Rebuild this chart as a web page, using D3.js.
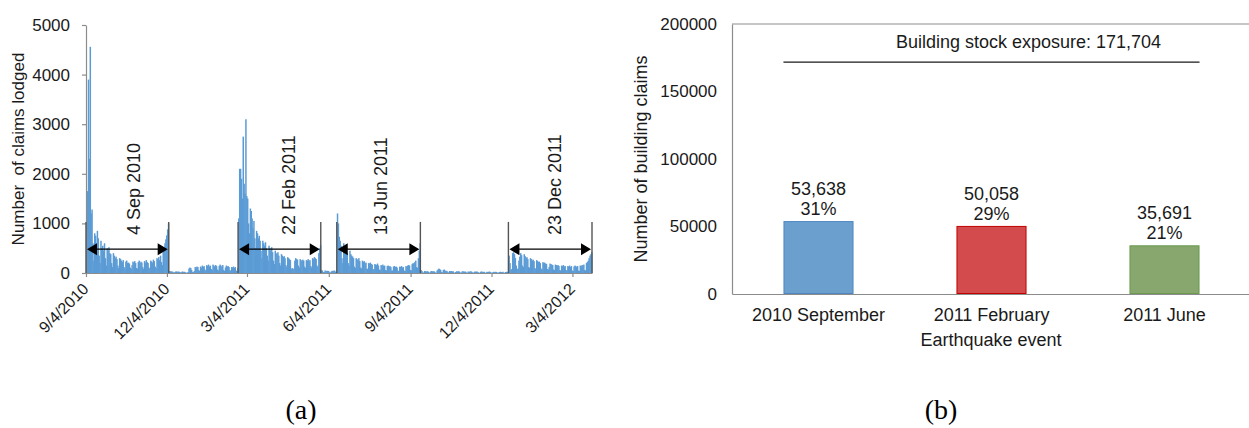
<!DOCTYPE html>
<html>
<head>
<meta charset="utf-8">
<script src="https://cdn.jsdelivr.net/npm/d3@7"></script>
<style>
  body { margin: 0; background: #fff; }
  svg { display: block; font-family: "Liberation Sans", Arial, sans-serif; }
</style>
</head>
<body>
<svg id="fig" width="1249" height="428"></svg>
<script>
// ---------- (a) daily claims lodged ----------
// Each block is a run of consecutive days beginning at the matching entry of segmentStarts.
const segmentStarts = ["2010-09-04", "2010-12-06", "2011-02-22", "2011-05-26", "2011-06-13", "2011-09-15", "2011-12-23"];

const claimsSep2010 = [
  1000, 1650, 3900, 2300, 4560, 1200, 1280,
  600, 250, 800, 750, 600, 850, 700,
  350, 200, 650, 500, 550, 450, 600,
  300, 150, 500, 450, 520, 400, 380,
  200, 120, 400, 350, 300, 330, 280,
  150, 100, 300, 280, 250, 220, 260,
  120, 90, 230, 250, 200, 210, 190,
  110, 80, 160, 230, 210, 240, 200,
  100, 90, 220, 250, 200, 230, 210,
  120, 80, 240, 210, 260, 220, 200,
  110, 90, 250, 230, 210, 270, 240,
  130, 100, 300, 280, 320, 260, 350,
  220, 160, 480, 520, 600, 680, 760,
  880, 1000
];
const claimsSummer2011 = [
  40, 35, 30, 30, 25, 15,
  10, 30, 30, 25, 30, 25, 15,
  10, 25, 30, 20, 25, 15, 5,
  5, 20, 90, 110, 100, 60, 20,
  15, 40, 120, 110, 130, 120, 60,
  40, 130, 110, 150, 120, 140, 70,
  50, 160, 140, 170, 130, 150, 80,
  60, 170, 150, 130, 160, 140, 70,
  50, 140, 170, 150, 120, 160, 60,
  40, 110, 150, 130, 140, 120, 60,
  40, 120, 110, 130, 100, 120, 50,
  40, 100
];
const claimsFeb2011 = [
  1100, 2100, 2100, 1900, 1500, 2750, 1800,
  1600, 3100, 1550, 1500, 1000, 800, 1300, 1250, 1100, 900, 1050, 700, 500, 850, 800, 700,
  750, 650, 450, 300, 650, 600, 550, 620, 500, 350, 250, 550, 500, 450, 520,
  420, 250, 180, 450, 400, 380, 420, 350, 200, 150, 380, 350, 320, 340, 300,
  160, 120, 320, 300, 280, 260, 80, 100, 80, 90, 250, 300, 280, 270, 150,
  110, 280, 260, 240, 270, 250, 130, 100, 260, 250, 280, 240, 260, 140, 110,
  300, 280, 320, 300, 280, 150, 120, 400, 500, 560
];
const claimsWinter2011 = [
  60, 50, 20, 15, 50, 45, 40, 45, 40, 15, 10, 30, 45, 40, 50, 45, 20, 15
];
const claimsJun2011 = [
  1200, 1000, 730, 650, 550, 300, 200,
  600, 520, 480, 420, 400, 200, 150,
  450, 380, 350, 330, 300, 130, 100,
  300, 280, 260, 300, 240, 110, 90,
  250, 220, 240, 200, 210, 90, 80,
  200, 190, 210, 180, 170, 80, 70,
  180, 170, 160, 190, 150, 70, 60,
  160, 150, 170, 140, 150, 60, 50,
  140, 150, 130, 140, 120, 50, 50,
  130, 140, 120, 130, 110, 50, 40,
  130, 120, 140, 110, 120, 50, 40,
  140, 130, 150, 160, 150, 60, 50,
  180, 200, 190, 220, 250, 120, 100,
  300, 450, 600
];
const claimsSpring2011 = [
  60, 40, 10, 10,
  40, 35, 30, 35, 30, 10, 10,
  35, 40, 30, 35, 30, 10, 5,
  50, 70, 90, 80, 60, 20, 10,
  60, 70, 50, 40, 45, 15, 10,
  40, 35, 40, 30, 35, 10, 5,
  20, 35, 30, 35, 30, 10, 5,
  30, 35, 30, 25, 30, 10, 5,
  30, 25, 30, 35, 25, 10, 5,
  25, 30, 25, 30, 20, 5, 5,
  25, 30, 25, 20, 25, 5, 5,
  25, 20, 25, 30, 20, 5, 5,
  20, 25, 20, 25, 20, 5, 5,
  20, 25, 20, 20, 25, 5, 5,
  20, 25, 20, 25
];
const claimsDec2011 = [
  350, 200, 60, 80, 400, 420, 380, 300, 150,
  80, 90, 250, 330, 400, 360, 150, 120, 380, 340, 300, 320, 280, 120, 100,
  300, 280, 250, 270, 240, 100, 80, 260, 240, 220, 230, 200, 90, 70, 220, 200,
  210, 190, 180, 80, 70, 120, 190, 180, 170, 160, 70, 60, 170, 160, 150, 160, 140,
  60, 50, 150, 140, 160, 130, 140, 60, 50, 140, 130, 150,
  120, 140, 50, 40, 130, 150, 140, 120, 140, 50, 40, 150, 140, 160, 150, 170,
  60, 50, 200, 220, 250, 300, 350, 380, 420
];
const claimSegments = [claimsSep2010, claimsSummer2011, claimsFeb2011, claimsWinter2011,
                       claimsJun2011, claimsSpring2011, claimsDec2011];

const axisStart = "2010-09-04";
const axisEnd = "2012-03-26";
const dateTicks = ["2010-09-04", "2010-12-04", "2011-03-04", "2011-06-04", "2011-09-04", "2011-12-04", "2012-03-04"];
const claimTicks = [0, 1000, 2000, 3000, 4000, 5000];

const eventLabels = ["4 Sep 2010", "22 Feb 2011", "13 Jun 2011", "23 Dec 2011"];
const windowStarts = ["2010-09-04", "2011-02-22", "2011-06-13", "2011-12-23"];
const windowEnds = ["2010-12-05", "2011-05-25", "2011-09-14", "2012-03-25"];

// ---------- (b) building claims per event ----------
const events = ["2010 September", "2011 February", "2011 June"];
const buildingClaims = [53638, 50058, 35691];
const stockExposure = 171704;
const buildingTicks = [0, 50000, 100000, 150000, 200000];
const barFills = ["#6a9fce", "#d34b4d", "#87a76e"];
const barStrokes = ["#4f86c0", "#c00000", "#6a9a4c"];

// ---------- drawing ----------
const svg = d3.select("#fig");
const parse = d3.utcParse("%Y-%m-%d");
const axisColor = "#8c8c8c";
const textColor = "#1a1a1a";

const days = [];
segmentStarts.forEach((s, i) => {
  const start = parse(s);
  claimSegments[i].forEach((v, j) => days.push({ date: d3.utcDay.offset(start, j), value: v }));
});

const xA = d3.scaleUtc().domain([parse(axisStart), parse(axisEnd)]).range([86, 592]);
const yA = d3.scaleLinear().domain([0, 5000]).range([273, 25]);

const gA = svg.append("g");

gA.append("g").selectAll("rect").data(days).join("rect")
  .attr("x", d => xA(d.date))
  .attr("width", d => xA(d3.utcDay.offset(d.date, 1)) - xA(d.date) + 0.6)
  .attr("y", d => yA(d.value))
  .attr("height", d => yA(0) - yA(d.value))
  .attr("fill", "#5b9bd5");

const yAxisA = gA.append("g").attr("transform", `translate(${xA.range()[0]},0)`)
  .call(d3.axisLeft(yA).tickValues(claimTicks).tickSize(4).tickSizeOuter(0).tickPadding(12)
    .tickFormat(d3.format("d")));
const xAxisA = gA.append("g").attr("transform", `translate(0,${yA(0)})`)
  .call(d3.axisBottom(xA).tickValues(dateTicks.map(parse)).tickSize(4).tickSizeOuter(0)
    .tickFormat(d3.utcFormat("%-m/%-d/%Y")));

[yAxisA, xAxisA].forEach(a => {
  a.selectAll(".domain, line").attr("stroke", axisColor).attr("stroke-width", 1.2);
  a.selectAll("text").attr("fill", textColor).style("font-size", "16px");
});
yAxisA.selectAll("text").style("font-size", "17px");
xAxisA.selectAll("text")
  .attr("y", null).attr("dy", null)
  .attr("text-anchor", "end")
  .attr("transform", "translate(3,17) rotate(-45)");

gA.append("text")
  .attr("transform", `translate(24,${(yA(0) + yA(5000)) / 2}) rotate(-90)`)
  .attr("text-anchor", "middle").attr("fill", textColor).style("font-size", "17px")
  .style("white-space", "pre")
  .text("Number  of claims lodged");

// event windows: boundary lines, double-headed arrow and label
const labelShift = [13, 16, 8, 11];
eventLabels.forEach((label, i) => {
  const xs = xA(parse(windowStarts[i]));
  const xe = xA(d3.utcDay.offset(parse(windowEnds[i]), 1));
  const ya = yA(480);
  [xs, xe].forEach(xv => gA.append("line")
    .attr("x1", xv).attr("x2", xv).attr("y1", yA(0)).attr("y2", yA(1000) - 1.5)
    .attr("stroke", "#555").attr("stroke-width", 1.4));
  gA.append("line").attr("x1", xs + 8).attr("x2", xe - 8).attr("y1", ya).attr("y2", ya)
    .attr("stroke", "#000").attr("stroke-width", 1.2);
  gA.append("path")
    .attr("d", `M${xs + 1},${ya} L${xs + 11},${ya - 6} L${xs + 11},${ya + 6} Z`).attr("fill", "#000");
  gA.append("path")
    .attr("d", `M${xe - 1},${ya} L${xe - 11},${ya - 6} L${xe - 11},${ya + 6} Z`).attr("fill", "#000");
  gA.append("text")
    .attr("transform", `translate(${(xs + xe) / 2 + labelShift[i]},235) rotate(-90)`)
    .attr("fill", textColor).style("font-size", "18px")
    .text(label);
});

svg.append("text").attr("x", 301).attr("y", 419).attr("text-anchor", "middle")
  .style("font-family", "'Liberation Serif', 'Times New Roman', serif").style("font-size", "28px")
  .attr("fill", "#000").text("(a)");

// ---------- panel (b) ----------
const xB = d3.scaleBand().domain(events).range([732, 1251]).paddingInner(0.595).paddingOuter(0.2975);
const yB = d3.scaleLinear().domain([0, 200000]).range([294, 24]);
const gB = svg.append("g");

gB.append("line").attr("x1", 732).attr("x2", 1251).attr("y1", yB(200000)).attr("y2", yB(200000))
  .attr("stroke", axisColor).attr("stroke-width", 1.2);

const yAxisB = gB.append("g").attr("transform", "translate(732,0)")
  .call(d3.axisLeft(yB).tickValues(buildingTicks).tickSize(0).tickPadding(15).tickFormat(d3.format("d")));
const xAxisB = gB.append("g").attr("transform", `translate(0,${yB(0)})`)
  .call(d3.axisBottom(xB).tickSize(0).tickSizeOuter(0).tickPadding(14));
[yAxisB, xAxisB].forEach(a => {
  a.selectAll(".domain").attr("stroke", axisColor).attr("stroke-width", 1.2);
  a.selectAll("text").attr("fill", textColor).style("font-size", "17px");
});
xAxisB.selectAll("text").style("font-size", "18px");

gB.selectAll("rect.bar").data(events).join("rect").attr("class", "bar")
  .attr("x", d => xB(d) + 0.5)
  .attr("width", xB.bandwidth() - 1)
  .attr("y", (d, i) => yB(buildingClaims[i]))
  .attr("height", (d, i) => yB(0) - yB(buildingClaims[i]) - 0.5)
  .attr("fill", (d, i) => barFills[i])
  .attr("stroke", (d, i) => barStrokes[i]).attr("stroke-width", 1);

const pct = d3.format(".0%");
events.forEach((e, i) => {
  const cx = xB(e) + xB.bandwidth() / 2;
  const top = yB(buildingClaims[i]);
  gB.append("text").attr("x", cx).attr("y", top - 26.5).attr("text-anchor", "middle")
    .attr("fill", textColor).style("font-size", "18px").text(d3.format(",")(buildingClaims[i]));
  gB.append("text").attr("x", cx).attr("y", top - 6.5).attr("text-anchor", "middle")
    .attr("fill", textColor).style("font-size", "18px").text(pct(buildingClaims[i] / stockExposure));
});

const lineX1 = xB(events[0]);
const lineX2 = xB(events[events.length - 1]) + xB.bandwidth();
gB.append("line").attr("x1", lineX1).attr("x2", lineX2)
  .attr("y1", yB(stockExposure)).attr("y2", yB(stockExposure))
  .attr("stroke", "#1a1a1a").attr("stroke-width", 1.2);
gB.append("text").attr("x", (lineX1 + lineX2) / 2 + 37).attr("y", yB(stockExposure) - 14)
  .attr("text-anchor", "middle").attr("fill", textColor).style("font-size", "18px")
  .text("Building stock exposure: " + d3.format(",")(stockExposure));

gB.append("text")
  .attr("transform", `translate(647,${(yB(0) + yB(200000)) / 2}) rotate(-90)`)
  .attr("text-anchor", "middle").attr("fill", textColor).style("font-size", "18px")
  .text("Number of building claims");
gB.append("text").attr("x", 991).attr("y", 346).attr("text-anchor", "middle")
  .attr("fill", textColor).style("font-size", "18px").text("Earthquake event");

svg.append("text").attr("x", 941).attr("y", 419).attr("text-anchor", "middle")
  .style("font-family", "'Liberation Serif', 'Times New Roman', serif").style("font-size", "28px")
  .attr("fill", "#000").text("(b)");
</script>
</body>
</html>
